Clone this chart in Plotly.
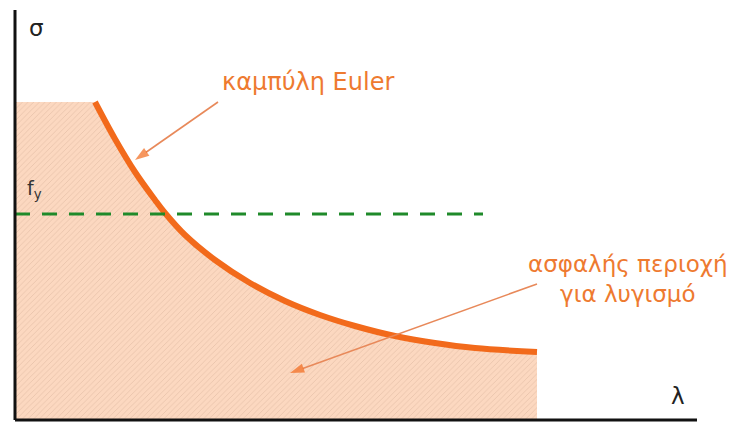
import plotly.graph_objects as go

# Slenderness (λ) and critical stress (σ) along the Euler curve, in drawing units
lam_euler = [80, 100, 120, 140, 150, 170, 200, 235, 270, 305, 340, 380, 420, 460, 522]
sig_euler = [318, 281, 248, 220, 207, 185, 160, 137, 119, 105, 94, 84, 77, 72, 68]

# Plateau of the safe region, left of the curve
lam_plateau = [0, 80]
sig_plateau = [318, 318]

# Yield stress level and the extent of the dashed line
fy = 206
lam_fy = [0, 468]

# Axis extents
lam_axis_end = 682
sig_axis_end = 410

# Pointer arrows: (tail, tip)
arrow_euler = ([203, 120], [318, 260])
arrow_safe = ([522, 275], [136, 47])

ORANGE = "#f26a1b"
TEXT_ORANGE = "#ee7a30"
ARROW = "#e8895a"
FILL = "#fcd8c0"
pattern = dict(shape="/", bgcolor=FILL, fgcolor="#d2aa92", size=4, solidity=0.2)

fig = go.Figure()

# Safe region: plateau part
fig.add_trace(go.Scatter(
    x=lam_plateau, y=sig_plateau, mode="lines", fill="tozeroy",
    line=dict(width=0, color="rgba(0,0,0,0)"),
    fillcolor=FILL, fillpattern=pattern,
    hoverinfo="skip", showlegend=False,
))

# Safe region under the Euler curve, and the curve itself
fig.add_trace(go.Scatter(
    x=lam_euler, y=sig_euler, mode="lines", fill="tozeroy",
    fillcolor=FILL, fillpattern=pattern,
    line=dict(color=ORANGE, width=6, shape="spline", smoothing=1.0),
    hoverinfo="skip", showlegend=False,
))

# Yield stress line
fig.add_trace(go.Scatter(
    x=lam_fy, y=[fy, fy], mode="lines",
    line=dict(color="#1f8a2a", width=3, dash="15px,12px"),
    hoverinfo="skip", showlegend=False,
))

# Pointer arrows
for ax_, ay_ in [arrow_euler, arrow_safe]:
    fig.add_trace(go.Scatter(
        x=ax_, y=ay_, mode="lines+markers",
        line=dict(color=ARROW, width=1.6),
        marker=dict(symbol="arrow", angleref="previous", size=[0, 15],
                    color=ORANGE, line=dict(width=0)),
        hoverinfo="skip", showlegend=False,
    ))

# Axes
fig.add_shape(type="line", x0=0, y0=0, x1=0, y1=sig_axis_end,
              line=dict(color="#111111", width=3))
fig.add_shape(type="line", x0=0, y0=0, x1=lam_axis_end, y1=0,
              line=dict(color="#111111", width=3))

font_main = "DejaVu Sans, Verdana, sans-serif"

def label(text, x, y, color, size, **kw):
    fig.add_annotation(x=x, y=y, text=text, showarrow=False,
                       font=dict(family=font_main, size=size, color=color), **kw)

label("σ", 21, 392, "#222222", 23)
label("λ", 663, 24, "#222222", 23)
label("f<sub>y</sub>", 10, 231, "#333333", 19, xanchor="left")
label("καμπύλη Euler", 293, 338, TEXT_ORANGE, 24)
label("ασφαλής περιοχή<br>για λυγισμό", 613, 141, TEXT_ORANGE, 23)

fig.update_layout(
    width=743, height=423,
    margin=dict(l=0, r=0, t=0, b=0),
    paper_bgcolor="white", plot_bgcolor="white",
    xaxis=dict(range=[-15, 728], visible=False, fixedrange=True),
    yaxis=dict(range=[-3, 420], visible=False, fixedrange=True),
)

fig.write_html("out.html")
